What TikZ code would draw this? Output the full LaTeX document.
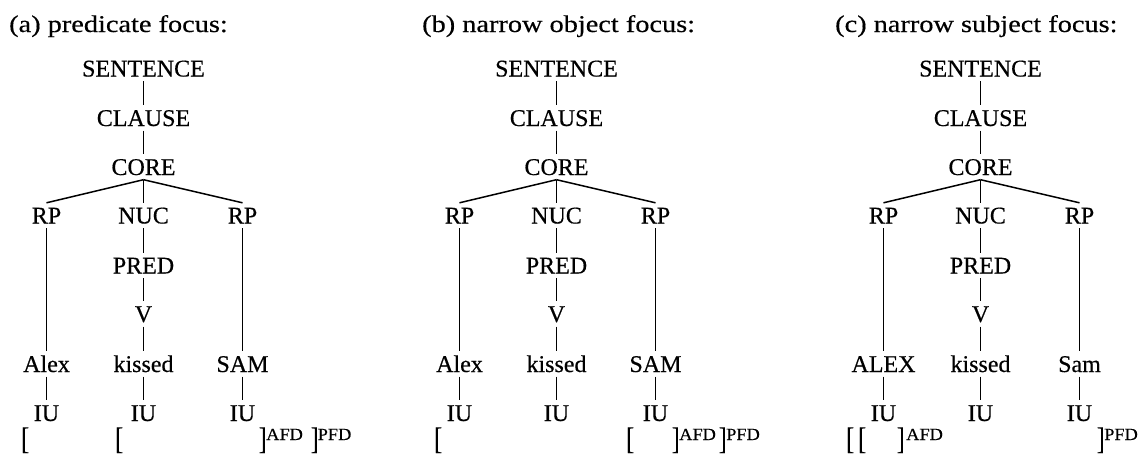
\documentclass[tikz,border=0pt]{standalone}
\usepackage{graphicx}
\usepackage{fontspec}
\setmainfont[FakeBold=0.4]{Liberation Serif}
\newfontfamily\headfont[FakeStretch=1.18,FakeBold=0.4]{Liberation Serif}
\newfontfamily\supfont[FakeStretch=1.08,FakeBold=0.3]{Liberation Serif}

\tikzset{
  lbl/.style={inner sep=0pt, text height=16pt, text depth=0pt, anchor=base,
              font=\fontsize{24}{28}\selectfont},
  head/.style={inner sep=0pt, anchor=base west, font=\headfont\fontsize{24}{28}\selectfont},
  brk/.style={inner sep=0pt, anchor=base west, font=\fontsize{24}{28}\selectfont},
  supr/.style={inner sep=0pt, anchor=base west, font=\supfont\fontsize{17}{20}\selectfont},
  branch/.style={line width=1.5pt},
}
% tall square brackets
\newcommand\tallbr[1]{\scalebox{1}[1.3]{#1}}

\begin{document}
\begin{tikzpicture}[x=1pt,y=-1pt]
\useasboundingbox (0,0) rectangle (1143,455);
\fill[white] (0,0) rectangle (1143,455);
\clip (0,0) rectangle (1143,455);

% headings
\node[head] (ha) at (9,32)   {(a) predicate focus:};
\node[head] (hb) at (422,32) {(b) narrow object focus:};
\node[head] (hc) at (835,32) {(c) narrow subject focus:};

% the three trees
\foreach \t/\dx/\wl/\wr in {a/0/Alex/SAM, b/413/Alex/SAM, c/837/ALEX/Sam} {
  \node[lbl] (\t-S)  at (\dx+143.5,76.5)  {SENTENCE};
  \node[lbl] (\t-CL) at (\dx+143.5,126)   {CLAUSE};
  \node[lbl] (\t-CO) at (\dx+143.5,175)   {CORE};
  \node[lbl] (\t-R1) at (\dx+46.5,223.5)  {RP};
  \node[lbl] (\t-N)  at (\dx+143.5,223.5) {NUC};
  \node[lbl] (\t-R2) at (\dx+242.5,223.5) {RP};
  \node[lbl] (\t-P)  at (\dx+143.5,273.5) {PRED};
  \node[lbl] (\t-V)  at (\dx+143.5,322)   {V};
  \node[lbl] (\t-W1) at (\dx+46.5,372)    {\wl};
  \node[lbl] (\t-W2) at (\dx+143.5,372)   {kissed};
  \node[lbl] (\t-W3) at (\dx+242.5,372)   {\wr};
  \node[lbl] (\t-I1) at (\dx+46.5,421)    {IU};
  \node[lbl] (\t-I2) at (\dx+143.5,421)   {IU};
  \node[lbl] (\t-I3) at (\dx+242.5,421)   {IU};

  \foreach \u/\l in {S/CL, CL/CO, CO/R1, CO/N, CO/R2, N/P, P/V, V/W2,
                     R1/W1, R2/W3, W1/I1, W2/I2, W3/I3}
    \draw[branch] ([yshift=-4.5pt]\t-\u.south) -- ([yshift=4.5pt]\t-\l.north);
}

% focus-domain brackets, tree (a)
\node[brk]  (a-b1) at (21,449)  {\tallbr{[}};
\node[brk]  (a-b2) at (115,449) {\tallbr{[}};
\node[brk]  (a-b3) at (258.5,449) {\tallbr{]}};
\node[supr] (a-s1) at (266,440) {AFD};
\node[brk]  (a-b4) at (310.5,449) {\tallbr{]}};
\node[supr] (a-s2) at (317.5,440) {PFD};

% tree (b)
\node[brk]  (b-b1) at (434,449) {\tallbr{[}};
\node[brk]  (b-b2) at (626,449) {\tallbr{[}};
\node[brk]  (b-b3) at (671.5,449) {\tallbr{]}};
\node[supr] (b-s1) at (679,440) {AFD};
\node[brk]  (b-b4) at (718.5,449) {\tallbr{]}};
\node[supr] (b-s2) at (726,440) {PFD};

% tree (c)
\node[brk]  (c-b1) at (846,449) {\tallbr{[}};
\node[brk]  (c-b2) at (858,449) {\tallbr{[}};
\node[brk]  (c-b3) at (896.5,449) {\tallbr{]}};
\node[supr] (c-s1) at (906,440) {AFD};
\node[brk]  (c-b4) at (1096.5,449) {\tallbr{]}};
\node[supr] (c-s2) at (1104,440) {PFD};
\end{tikzpicture}
\end{document}
